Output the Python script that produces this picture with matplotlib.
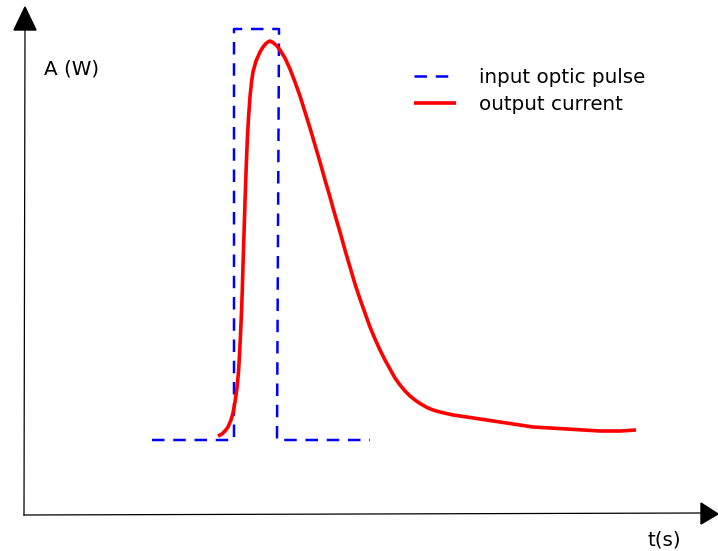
import matplotlib
matplotlib.use("Agg")
import matplotlib.pyplot as plt
from matplotlib.patches import Polygon

# pixel-like canvas coordinates (x right, y down)
W, H = 718, 551

# input optic pulse (rectangular, dashed)
pulse_x = [152, 234, 234, 279, 277, 370]
pulse_y = [440, 440, 29, 29, 440, 440]

# output current response
current_x = [218, 222, 225, 228, 231, 233, 235, 237, 238.5, 239.5, 240.5,
             241.5, 242.3, 243, 243.8, 244.6, 245.4, 246.3, 247.3, 248.5, 250,
             251.5, 253, 256, 260, 263, 266, 268, 270, 273, 277, 280, 285, 290,
             295, 300, 305, 310, 315, 320, 325, 330, 335, 340, 345, 350, 355,
             360, 365, 370, 375, 380, 385, 390, 395, 400, 405, 410, 415, 420,
             427, 433, 440, 453, 467, 480, 500, 533, 567, 600, 620, 636]
current_y = [436, 434, 431, 427, 420, 413, 402, 388, 372, 355, 335,
             312, 290, 265, 240, 215, 190, 165, 140, 118, 97,
             82, 72, 61, 52, 47, 43.5, 42, 41, 42.5, 46, 50, 58, 69,
             82, 96, 112, 128, 145, 162, 180, 197, 215, 232, 250, 267, 284,
             299, 313, 327, 339, 350, 360, 369, 378, 385, 391, 396, 400, 403.5,
             407.5, 410, 412, 415, 417, 419, 422, 427, 429, 431, 431, 430]

fig = plt.figure(figsize=(W / 100, H / 100), dpi=100)
ax = fig.add_axes([0, 0, 1, 1])
ax.set_xlim(0, W)
ax.set_ylim(H, 0)
ax.axis("off")

# axes with arrowheads
ax.plot([24, 25], [515, 28], color="black", lw=0.9)
ax.plot([24, 702], [515, 513], color="black", lw=0.9)
ax.add_patch(Polygon([[14, 30], [36, 30], [25, 7]], closed=True, color="black"))
ax.add_patch(Polygon([[701, 503], [701, 524], [718, 514]], closed=True, color="black"))

ax.plot(pulse_x, pulse_y, color="blue", lw=1.8, dashes=(5, 3.5),
        label="input optic pulse")
ax.plot(current_x, current_y, color="red", lw=2.6, solid_capstyle="butt",
        solid_joinstyle="round", label="output current")

ax.text(44, 69, "A (W)", fontsize=14.3, va="center", ha="left")
ax.text(648, 540, "t(s)", fontsize=14.3, va="center", ha="left")

ax.legend(loc="upper left", bbox_to_anchor=(406 / W, 1 - 60 / H), frameon=False,
          fontsize=14.3, handlelength=2.1, handletextpad=1.2, labelspacing=0.42,
          borderaxespad=0)

fig.savefig("out.png", dpi=100)
